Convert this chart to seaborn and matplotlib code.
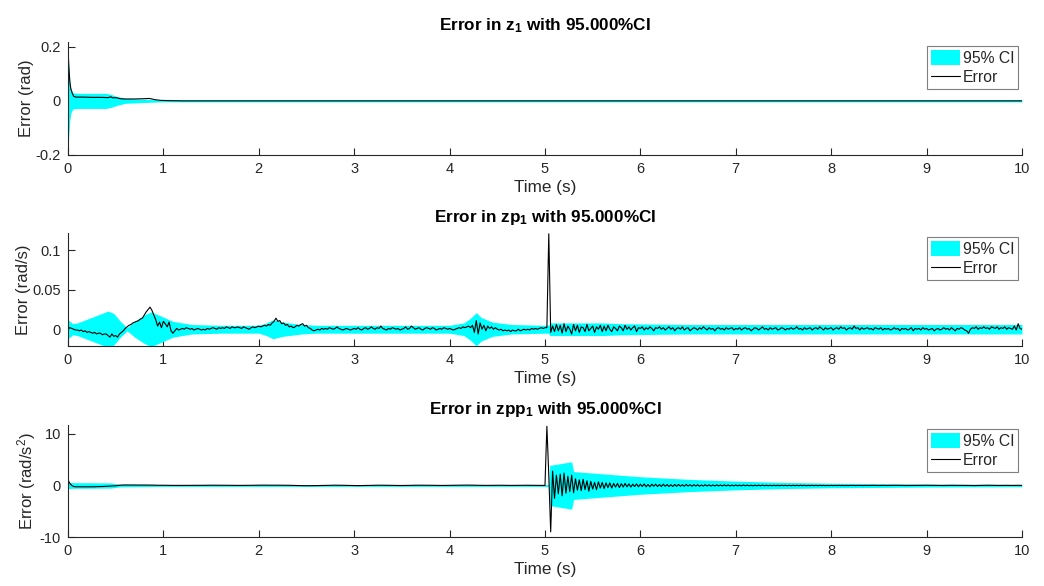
import numpy as np
import matplotlib
matplotlib.use("Agg")
import matplotlib.pyplot as plt
import seaborn as sns

# ---------------- data ----------------
# sample grid of the recorded signals (s)
time_grid = np.round(np.arange(501) * 0.02, 2)

# z_1 error (rad): sparse samples
z1_t = [0.0, 0.005, 0.01, 0.02, 0.03, 0.045, 0.06, 0.08, 0.15, 0.25, 0.35, 0.42, 0.45, 0.47,
        0.50, 0.55, 0.60, 0.70, 0.80, 0.85, 0.88, 0.92, 0.97, 1.05, 1.20, 1.50, 2.0, 3.0,
        4.0, 5.0, 6.0, 7.0, 8.0, 9.0, 10.0]
z1_err = [0.200, 0.160, 0.120, 0.070, 0.045, 0.028, 0.017, 0.014, 0.014, 0.013, 0.013, 0.012,
          0.015, 0.011, 0.012, 0.008, 0.007, 0.007, 0.008, 0.009, 0.007, 0.004, 0.002, 0.001,
          0.000, 0.000, 0.000, 0.000, 0.000, 0.000, 0.000, 0.000, 0.000, 0.000, 0.000]
# z_1 95% CI half width (rad)
z1_ci_t = [0.0, 0.01, 0.02, 0.03, 0.05, 0.10, 0.40, 0.45, 0.52, 0.60, 0.80, 0.95, 1.05, 10.0]
z1_ci_hw = [0.180, 0.120, 0.070, 0.045, 0.030, 0.028, 0.028, 0.024, 0.016, 0.009, 0.006,
            0.004, 0.0035, 0.0035]

# zp_1 error (rad/s) on time_grid
zp1_err = [
    0.000, 0.002, 0.001, 0.000, -0.001, -0.001, -0.002, -0.001, -0.003, -0.002,
    -0.004, -0.003, -0.004, -0.005, -0.004, -0.006, -0.005, -0.005, -0.007, -0.006,
    -0.006, -0.008, -0.010, -0.006, -0.009, -0.008, -0.010, -0.006, -0.004, -0.002,
    0.001, 0.003, 0.005, 0.006, 0.008, 0.009, 0.010, 0.011, 0.013, 0.014,
    0.018, 0.022, 0.025, 0.028, 0.024, 0.018, 0.012, 0.004, 0.009, 0.002,
    0.010, 0.007, 0.003, 0.009, -0.002, -0.005, -0.002, 0.001, -0.001, 0.000,
    0.001, 0.000, 0.002, 0.001, 0.000, 0.001, -0.001, 0.000, 0.001, 0.000,
    -0.001, 0.000, -0.001, 0.001, 0.000, 0.001, 0.002, 0.001, 0.000, 0.002,
    0.001, 0.002, 0.001, 0.003, 0.002, 0.001, 0.003, 0.002, 0.002, 0.003,
    0.002, 0.001, 0.003, 0.002, 0.001, 0.000, 0.002, 0.003, 0.002, 0.003,
    0.004, 0.003, 0.004, 0.005, 0.004, 0.006, 0.005, 0.008, 0.010, 0.014,
    0.010, 0.011, 0.007, 0.008, 0.005, 0.006, 0.003, 0.004, 0.002, 0.003,
    0.005, 0.004, 0.006, 0.007, 0.004, 0.005, 0.002, 0.001, -0.001, -0.002,
    -0.001, 0.000, -0.001, 0.001, 0.000, 0.001, 0.000, 0.002, 0.001, 0.000,
    0.001, 0.003, 0.001, 0.000, -0.001, 0.000, 0.001, 0.000, -0.001, 0.000,
    0.001, 0.000, 0.002, 0.000, -0.001, 0.001, 0.002, 0.000, 0.001, 0.003,
    0.001, 0.000, 0.002, 0.001, 0.004, 0.001, 0.000, -0.001, 0.001, 0.000,
    0.002, 0.001, 0.000, 0.001, -0.001, 0.000, 0.001, 0.003, 0.000, 0.001,
    0.004, 0.002, 0.000, 0.001, 0.002, 0.000, -0.001, 0.001, 0.002, 0.001,
    0.000, 0.002, 0.001, -0.001, 0.000, 0.001, 0.000, 0.002, 0.001, 0.000,
    0.001, 0.000, -0.001, 0.000, 0.001, 0.002, 0.001, 0.003, 0.002, 0.003,
    0.004, 0.002, 0.005, -0.004, 0.011, -0.006, 0.008, 0.000, 0.005, -0.002,
    0.004, 0.001, 0.003, 0.000, 0.002, 0.000, -0.001, 0.000, -0.002, -0.001,
    -0.002, -0.001, -0.003, -0.001, -0.002, -0.002, 0.000, -0.002, -0.001, 0.000,
    -0.001, 0.000, -0.001, 0.001, 0.000, 0.001, 0.000, 0.001, 0.002, 0.001,
    0.002, 0.002, 0.121, -0.004, 0.004, -0.003, 0.006, -0.002, 0.005, -0.005,
    0.007, -0.003, 0.004, 0.000, -0.006, 0.006, -0.002, 0.005, -0.004, 0.003,
    0.002, -0.003, 0.006, -0.002, 0.001, 0.004, -0.004, 0.003, 0.000, 0.005,
    -0.003, 0.004, -0.002, 0.005, 0.000, -0.003, 0.003, 0.001, -0.002, 0.004,
    0.002, -0.002, 0.005, 0.000, 0.003, -0.001, 0.002, 0.004, -0.003, 0.002,
    0.001, 0.003, -0.001, 0.002, 0.000, 0.003, 0.001, -0.002, 0.002, 0.001,
    0.003, 0.000, 0.002, -0.001, 0.001, 0.003, 0.000, 0.002, -0.002, 0.001,
    0.002, 0.000, 0.003, -0.001, 0.001, 0.002, -0.002, 0.000, 0.002, 0.001,
    -0.001, 0.002, 0.000, 0.003, 0.001, -0.001, 0.002, 0.000, 0.001, -0.002,
    0.001, 0.002, 0.000, 0.001, -0.001, 0.002, 0.000, 0.001, 0.002, -0.001,
    0.001, 0.000, 0.002, -0.001, 0.001, 0.002, 0.000, 0.001, -0.002, 0.000,
    0.002, 0.001, -0.001, 0.001, 0.003, 0.000, 0.001, -0.001, 0.002, 0.000,
    0.001, 0.002, -0.001, 0.000, 0.002, 0.001, -0.001, 0.001, 0.000, 0.002,
    0.000, 0.001, 0.003, 0.000, 0.001, -0.001, 0.002, 0.000, 0.001, 0.002,
    -0.001, 0.001, 0.002, 0.000, 0.003, 0.001, -0.001, 0.002, 0.000, 0.001,
    0.002, -0.001, 0.001, 0.002, 0.000, 0.003, 0.001, 0.002, -0.001, 0.001,
    0.002, 0.000, 0.004, 0.001, 0.002, -0.001, 0.002, 0.000, 0.001, 0.002,
    0.000, 0.001, -0.001, 0.002, 0.001, 0.000, 0.002, -0.001, 0.001, 0.000,
    0.001, -0.001, 0.000, 0.002, 0.000, 0.001, -0.002, 0.001, 0.000, 0.001,
    -0.001, 0.000, 0.002, -0.002, 0.001, 0.000, 0.001, -0.001, 0.002, 0.000,
    0.001, -0.001, 0.000, 0.001, -0.002, 0.000, 0.001, -0.001, 0.000, 0.002,
    0.000, 0.001, -0.001, 0.002, 0.000, -0.002, 0.001, 0.000, 0.002, 0.001,
    -0.001, -0.002, -0.005, 0.000, 0.002, 0.001, 0.003, 0.000, 0.002, 0.001,
    0.003, 0.001, 0.002, 0.000, 0.003, 0.002, 0.001, 0.003, 0.000, 0.002,
    0.001, 0.003, 0.000, 0.002, 0.001, 0.000, 0.004, -0.001, 0.007, 0.001,
    0.000,
]
zp1_ci_t = [0.00, 0.05, 0.10, 0.25, 0.42, 0.48, 0.55, 0.62, 0.70, 0.80, 0.87, 0.95, 1.10,
            1.30, 1.60, 2.00, 2.08, 2.15, 2.25, 2.45, 2.60, 4.00, 4.15, 4.22, 4.28, 4.33,
            4.45, 4.65, 5.00, 5.04, 5.05, 5.60, 5.80, 6.50, 10.0]
zp1_ci_hw = [0.012, 0.007, 0.008, 0.015, 0.023, 0.020, 0.010, 0.002, 0.010, 0.018, 0.022,
             0.018, 0.010, 0.006, 0.005, 0.005, 0.008, 0.012, 0.009, 0.006, 0.005, 0.005,
             0.008, 0.014, 0.021, 0.015, 0.009, 0.006, 0.005, 0.005, 0.008, 0.008, 0.007,
             0.006, 0.006]

# zpp_1 error (rad/s^2) on time_grid
zpp1_err = [
    1.10, 0.40, 0.00, -0.20, -0.25, -0.25, -0.25, -0.25, -0.25, -0.25,
    -0.25, -0.25, -0.25, -0.25, -0.25, -0.22, -0.22, -0.20, -0.20, -0.18,
    -0.18, -0.15, -0.12, -0.10, -0.08, -0.05, 0.00, 0.05, 0.08, 0.10,
    0.10, 0.10, 0.10, 0.10, 0.10, 0.10, 0.10, 0.10, 0.10, 0.10,
    0.10, 0.10, 0.08, 0.08, 0.08, 0.06, 0.06, 0.06, 0.05, 0.05,
    0.05, 0.04, 0.04, 0.03, 0.03, 0.03, 0.02, 0.02, 0.02, 0.02,
    0.02, 0.01, 0.01, 0.01, 0.02, 0.02, 0.03, 0.03, 0.03, 0.04,
    0.04, 0.04, 0.05, 0.05, 0.05, 0.06, 0.06, 0.06, 0.06, 0.06,
    0.06, 0.05, 0.05, 0.05, 0.04, 0.04, 0.03, 0.03, 0.03, 0.02,
    0.02, 0.02, 0.02, 0.03, 0.03, 0.04, 0.04, 0.05, 0.05, 0.06,
    0.06, 0.07, 0.07, 0.08, 0.08, 0.08, 0.09, 0.09, 0.09, 0.09,
    0.08, 0.08, 0.07, 0.06, 0.05, 0.04, 0.03, 0.02, 0.01, 0.00,
    0.00, -0.01, -0.02, -0.03, -0.03, -0.04, -0.04, -0.04, -0.03, -0.03,
    -0.02, -0.01, 0.00, 0.01, 0.02, 0.03, 0.04, 0.05, 0.05, 0.06,
    0.06, 0.06, 0.05, 0.05, 0.04, 0.03, 0.02, 0.01, 0.00, -0.01,
    -0.01, -0.02, -0.02, -0.02, -0.01, 0.00, 0.01, 0.02, 0.03, 0.04,
    0.05, 0.05, 0.06, 0.06, 0.06, 0.06, 0.05, 0.05, 0.04, 0.03,
    0.03, 0.02, 0.01, 0.01, 0.00, 0.00, 0.01, 0.01, 0.02, 0.03,
    0.03, 0.04, 0.05, 0.05, 0.06, 0.06, 0.06, 0.06, 0.05, 0.05,
    0.04, 0.04, 0.03, 0.02, 0.02, 0.01, 0.01, 0.02, 0.02, 0.03,
    0.03, 0.04, 0.04, 0.05, 0.05, 0.06, 0.07, 0.07, 0.08, 0.08,
    0.08, 0.07, 0.07, 0.06, 0.05, 0.04, 0.03, 0.03, 0.02, 0.02,
    0.02, 0.03, 0.03, 0.04, 0.04, 0.05, 0.05, 0.05, 0.04, 0.04,
    0.03, 0.03, 0.02, 0.02, 0.02, 0.03, 0.03, 0.04, 0.04, 0.05,
    0.05, 0.05, 0.04, 0.04, 0.03, 0.03, 0.03, 0.02, 0.02, 0.02,
    0.00, 11.50, 2.00, -9.00, 2.80, -2.50, 2.00, -1.60, 2.20, -2.00,
    2.40, -1.50, 1.80, -1.20, 2.00, -1.40, 1.30, -0.90, 1.10, -1.00,
    1.20, -0.80, 0.90, -1.10, 0.80, -0.70, 0.60, -0.80, 0.70, -0.50,
    0.60, -0.60, 0.50, -0.40, 0.50, -0.50, 0.40, -0.30, 0.40, -0.40,
    0.35, -0.30, 0.40, -0.25, 0.30, -0.30, 0.25, -0.20, 0.30, -0.25,
    0.25, -0.20, 0.30, -0.25, 0.20, -0.25, 0.25, -0.15, 0.25, -0.20,
    0.20, -0.20, 0.25, -0.15, 0.20, -0.20, 0.15, -0.20, 0.20, -0.15,
    0.20, -0.15, 0.15, -0.15, 0.20, -0.10, 0.15, -0.15, 0.15, -0.10,
    0.15, -0.15, 0.10, -0.12, 0.15, -0.10, 0.12, -0.12, 0.10, -0.10,
    0.12, -0.08, 0.10, -0.10, 0.12, -0.08, 0.10, -0.10, 0.08, -0.08,
    0.10, -0.08, 0.08, -0.08, 0.10, -0.06, 0.08, -0.08, 0.06, -0.08,
    0.08, -0.06, 0.06, -0.06, 0.08, -0.05, 0.06, -0.06, 0.05, -0.05,
    0.06, -0.05, 0.05, -0.05, 0.06, -0.04, 0.05, -0.05, 0.04, -0.04,
    0.05, -0.04, 0.04, -0.04, 0.05, -0.03, 0.04, -0.04, 0.03, -0.03,
    0.04, -0.03, 0.03, -0.03, 0.04, -0.02, 0.03, -0.03, 0.02, -0.03,
    0.03, -0.02, 0.02, -0.02, 0.03, -0.02, 0.02, -0.02, 0.02, -0.02,
    0.02, 0.00, 0.02, -0.01, 0.02, 0.00, 0.01, -0.01, 0.02, 0.00,
    0.01, 0.00, 0.02, 0.01, 0.02, 0.00, 0.01, 0.01, 0.02, 0.00,
    0.01, 0.02, 0.03, 0.02, 0.03, 0.02, 0.01, 0.01, 0.00, 0.00,
    0.00, -0.01, -0.01, 0.00, 0.01, 0.01, 0.02, 0.03, 0.03, 0.04,
    0.04, 0.04, 0.03, 0.03, 0.02, 0.01, 0.01, 0.00, 0.00, 0.01,
    0.01, 0.02, 0.02, 0.03, 0.03, 0.04, 0.04, 0.04, 0.03, 0.02,
    0.02, 0.01, 0.00, 0.00, -0.01, -0.01, 0.00, 0.01, 0.02, 0.03,
    0.04, 0.05, 0.05, 0.04, 0.03, 0.02, 0.02, 0.01, 0.01, 0.02,
    0.02, 0.03, 0.03, 0.02, 0.01, 0.01, 0.02, 0.02, 0.03, 0.02,
    0.02,
]
zpp1_ci_t = [0.00, 0.05, 0.45, 0.55, 1.00, 5.00, 5.04, 5.05, 5.28, 5.30, 6.00, 6.50, 7.00,
             7.50, 8.00, 9.00, 10.0]
zpp1_ci_hw = [0.60, 0.55, 0.50, 0.25, 0.18, 0.18, 0.18, 3.90, 4.60, 2.70, 1.70, 1.20, 0.85,
              0.60, 0.45, 0.30, 0.22]

titles = [r"Error in z$_\mathbf{1}$ with 95.000%CI",
          r"Error in zp$_\mathbf{1}$ with 95.000%CI",
          r"Error in zpp$_\mathbf{1}$ with 95.000%CI"]
ylabels = ["Error (rad)", "Error (rad/s)", r"Error (rad/s$^2$)"]
xlabel = "Time (s)"
legend_labels = ["95% CI", "Error"]
x_ticks = [0, 1, 2, 3, 4, 5, 6, 7, 8, 9, 10]
y_ticks = [[-0.2, 0, 0.2], [0, 0.05, 0.1], [-10, 0, 10]]
y_ticklabels = [["-0.2", "0", "0.2"], ["0", "0.05", "0.1"], ["-10", "0", "10"]]
y_limits = [(-0.2, 0.218), (-0.0212, 0.1221), (-10, 11.74)]

if len(zp1_err) != len(time_grid) or len(zpp1_err) != len(time_grid):
    raise ValueError(f"lengths zp1={len(zp1_err)} zpp1={len(zpp1_err)} grid={len(time_grid)}")

# ---------------- style ----------------
sns.set_theme(style="white")
plt.rcParams['font.family'] = ['Liberation Sans', 'DejaVu Sans']
plt.rcParams['mathtext.fontset'] = 'custom'
plt.rcParams['mathtext.rm'] = 'Liberation Sans'
plt.rcParams['mathtext.it'] = 'Liberation Sans:italic'
plt.rcParams['mathtext.bf'] = 'Liberation Sans:bold'
plt.rcParams['axes.unicode_minus'] = False

AX_COL = '#262626'
fig = plt.figure(figsize=(10.44, 5.86), dpi=100)
positions = [[0.0651, 0.7355, 0.9138, 0.1930],
             [0.0651, 0.4096, 0.9138, 0.1930],
             [0.0651, 0.0836, 0.9138, 0.1911]]

series = [
    (z1_t, z1_err, z1_ci_t, z1_ci_hw),
    (time_grid, zp1_err, zp1_ci_t, zp1_ci_hw),
    (time_grid, zpp1_err, zpp1_ci_t, zpp1_ci_hw),
]

for i, (t, err, ci_t, ci_hw) in enumerate(series):
    ax = fig.add_axes(positions[i])
    ci_t_a = np.asarray(ci_t)
    hw = np.asarray(ci_hw)
    ax.fill_between(ci_t_a, -hw, hw, color='#00ffff', linewidth=0, label=legend_labels[0])
    sns.lineplot(x=np.asarray(t), y=np.asarray(err), ax=ax, color='black', linewidth=0.8,
                 estimator=None, sort=False, label=legend_labels[1])
    ax.set_xlim(0, 10)
    ax.set_ylim(*y_limits[i])
    ax.set_xticks(x_ticks)
    ax.set_xticklabels([str(v) for v in x_ticks])
    ax.set_yticks(y_ticks[i])
    ax.set_yticklabels(y_ticklabels[i])
    for s in ['top', 'right']:
        ax.spines[s].set_visible(False)
    for s in ['left', 'bottom']:
        ax.spines[s].set_color(AX_COL)
        ax.spines[s].set_linewidth(0.8)
    ax.tick_params(direction='in', length=5, width=0.8, colors=AX_COL, labelsize=10.5,
                   pad=5, left=True, bottom=True)
    ax.set_xlabel(xlabel, fontsize=12.3, color=AX_COL, labelpad=3)
    ax.set_ylabel(ylabels[i], fontsize=12, color=AX_COL, labelpad=1)
    ax.set_title(titles[i], fontsize=12.3, fontweight='bold', color='black', pad=8)
    leg = ax.legend(loc='upper right', bbox_to_anchor=(0.996, 0.965), fontsize=11.3,
                    frameon=True, fancybox=False, framealpha=1, edgecolor='#7f7f7f',
                    handlelength=1.9, handleheight=1.15, handletextpad=0.15,
                    borderpad=0.25, labelspacing=0.2, borderaxespad=0)
    leg.get_frame().set_linewidth(0.8)
    ax.patch.set_alpha(0)

fig.savefig("out.png", dpi=100)
